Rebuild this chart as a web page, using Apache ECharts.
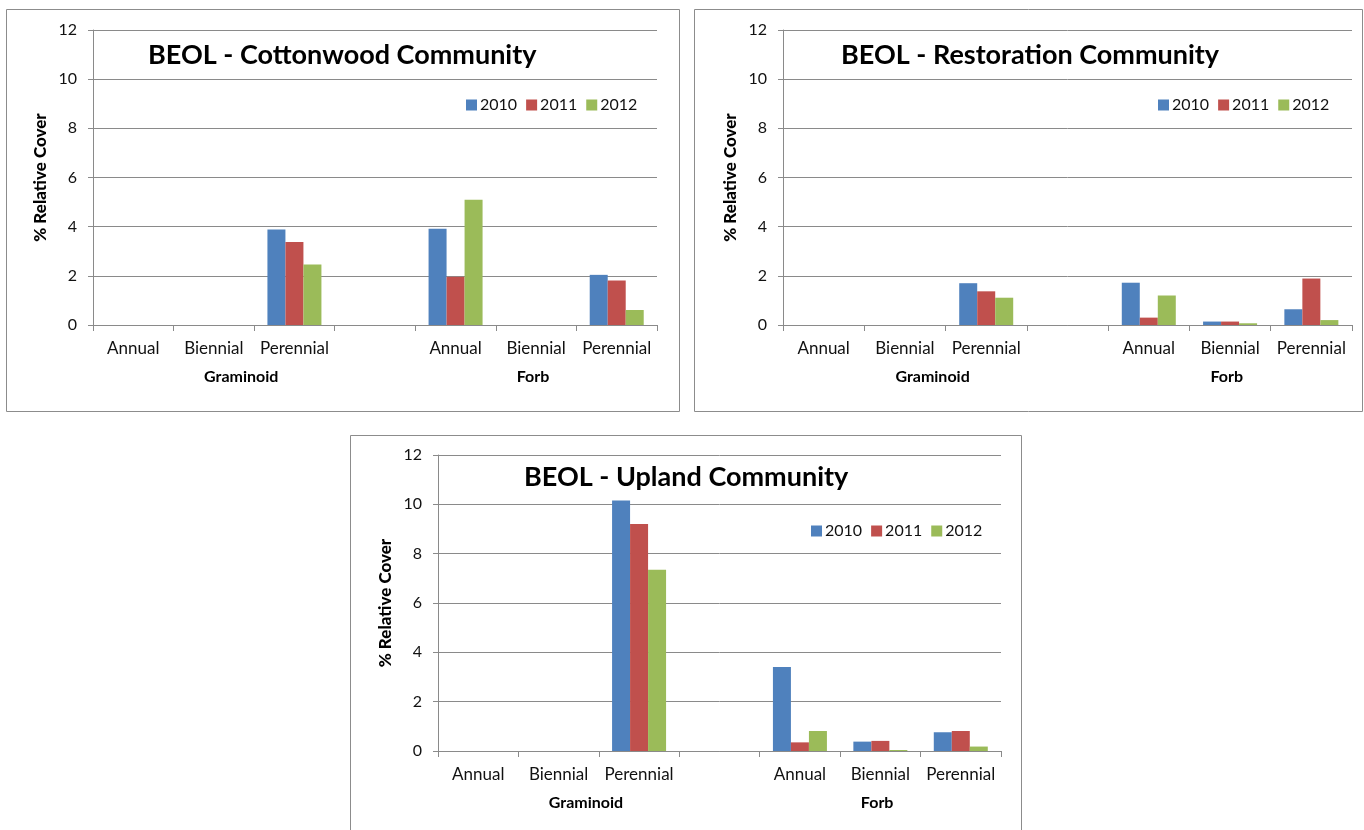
<!DOCTYPE html>
<html>
<head>
<meta charset="utf-8">
<script src="https://cdn.jsdelivr.net/npm/echarts@6/dist/echarts.min.js"></script>
<style>
  html, body { margin: 0; padding: 0; background: #fff; }
  #chart { width: 1364px; height: 830px; }
</style>
</head>
<body>
<div id="chart"></div>
<script>
// Life-form cover by year, BEOL plant communities
const years = ['2010', '2011', '2012'];
const categories = ['Annual', 'Biennial', 'Perennial', '', 'Annual', 'Biennial', 'Perennial'];
const groups = ['Graminoid', 'Forb'];
const yMin = 0, yMax = 12, yStep = 2;

const cottonwood2010 = [0, 0, 3.88, 0, 3.92, 0, 2.04];
const cottonwood2011 = [0, 0, 3.38, 0, 1.96, 0, 1.81];
const cottonwood2012 = [0, 0, 2.46, 0, 5.10, 0, 0.61];

const restoration2010 = [0, 0, 1.70, 0, 1.72, 0.14, 0.64];
const restoration2011 = [0, 0, 1.37, 0, 0.30, 0.14, 1.89];
const restoration2012 = [0, 0, 1.11, 0, 1.20, 0.07, 0.20];

const upland2010 = [0, 0, 10.16, 0, 3.41, 0.38, 0.76];
const upland2011 = [0, 0, 9.20, 0, 0.35, 0.41, 0.81];
const upland2012 = [0, 0, 7.35, 0, 0.81, 0.04, 0.18];

const colors = ['#4F81BD', '#C0504D', '#9BBB59'];
const FONT = 'Lato, "Open Sans", sans-serif';
const GRID_LINE = '#8a8a8a';

// panel layout: frame, plot area, title, legend
const panels = [
  { title: 'BEOL - Cottonwood Community', series: [cottonwood2010, cottonwood2011, cottonwood2012],
    box: [6, 9, 673, 402], grid: [93, 30, 564, 295], titlePos: [148, 42], legendPos: [466, 97] },
  { title: 'BEOL - Restoration Community', series: [restoration2010, restoration2011, restoration2012],
    box: [694, 9, 668, 402], grid: [783, 30, 569, 295], titlePos: [841, 42], legendPos: [1158, 97] },
  { title: 'BEOL - Upland Community', series: [upland2010, upland2011, upland2012],
    box: [350, 435, 671, 420], grid: [438, 455, 563, 296], titlePos: [524, 464], legendPos: [811, 523] }
];

const option = {
  backgroundColor: '#fff',
  animation: false,
  color: colors,
  title: [], legend: [], grid: [], xAxis: [], yAxis: [], series: [], graphic: []
};

panels.forEach((p, i) => {
  const [gl, gt, gw, gh] = p.grid;
  option.graphic.push({
    type: 'rect', silent: true, z: -1,
    shape: { x: p.box[0] + 0.5, y: p.box[1] + 0.5, width: p.box[2], height: p.box[3] },
    style: { fill: '#fff', stroke: '#8c8c8c', lineWidth: 1 }
  });
  option.title.push({
    text: p.title, left: p.titlePos[0], top: p.titlePos[1], padding: 0,
    textStyle: { fontFamily: FONT, fontWeight: 'bold', fontSize: 27, color: '#000' }
  });
  option.legend.push({
    data: years, left: p.legendPos[0], top: p.legendPos[1], padding: 0,
    icon: 'rect', itemWidth: 11, itemHeight: 11, itemGap: 9,
    textStyle: { fontFamily: FONT, fontSize: 16, color: '#111', padding: [0, 0, 0, -2] }
  });
  option.grid.push({ left: gl, top: gt, width: gw, height: gh, containLabel: false });
  option.xAxis.push({
    type: 'category', gridIndex: i, data: categories,
    axisLine: { show: true, lineStyle: { color: GRID_LINE, width: 1 } },
    axisTick: { show: true, length: 6, alignWithLabel: false, lineStyle: { color: GRID_LINE } },
    axisLabel: { interval: 0, margin: 15, fontFamily: FONT, fontSize: 17, color: '#111' },
    splitLine: { show: false }
  });
  option.yAxis.push({
    type: 'value', gridIndex: i, min: yMin, max: yMax, interval: yStep,
    name: '% Relative Cover', nameLocation: 'middle', nameRotate: 90, nameGap: 44,
    nameTextStyle: { fontFamily: FONT, fontWeight: 900, fontSize: 17, color: '#000' },
    axisLine: { show: true, lineStyle: { color: GRID_LINE, width: 1 } },
    axisTick: { show: true, length: 5, lineStyle: { color: GRID_LINE } },
    axisLabel: { margin: 16, fontFamily: FONT, fontSize: 16, color: '#111' },
    splitLine: { show: true, lineStyle: { color: GRID_LINE, width: 1 } }
  });
  p.series.forEach((vals, k) => {
    option.series.push({
      type: 'bar', name: years[k], xAxisIndex: i, yAxisIndex: i,
      data: vals, barWidth: 18, barGap: '0%',
      itemStyle: { color: colors[k] }
    });
  });
  // group captions under the category labels
  const slot = gw / categories.length;
  [[groups[0], 1.84], [groups[1], 5.46]].forEach(([txt, pos]) => {
    option.graphic.push({
      type: 'text', silent: true,
      x: gl + slot * pos, y: gt + gh + 52,
      style: { text: txt, fontFamily: FONT, fontWeight: 'bold', fontSize: 16, fill: '#000',
               align: 'center', verticalAlign: 'middle' }
    });
  });
});

const chart = echarts.init(document.getElementById('chart'), null, { renderer: 'canvas' });
chart.setOption(option);
</script>
</body>
</html>
